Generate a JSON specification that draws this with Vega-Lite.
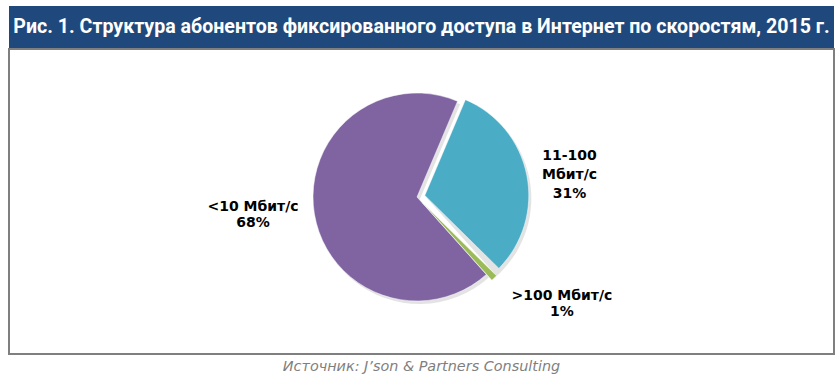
{
  "$schema": "https://vega.github.io/schema/vega-lite/v6.json",
  "background": "white",
  "padding": {"left": 8, "top": 6, "right": 0, "bottom": 0},
  "spacing": 0,
  "config": {"view": {"stroke": null}, "concat": {"spacing": 0}},
  "vconcat": [
    {
      "width": 825,
      "height": 42,
      "view": {"fill": "#1F497D", "stroke": null},
      "data": {"values": [{"title": "Рис. 1. Структура абонентов фиксированного доступа в Интернет по скоростям, 2015 г."}]},
      "mark": {"type": "text", "font": "Roboto", "fontWeight": "bold", "fontSize": 19.6, "color": "white", "align": "center", "baseline": "middle"},
      "encoding": {"text": {"field": "title"}}
    },
    {
      "width": 825,
      "height": 305,
      "view": {"stroke": "#7F7F7F", "strokeWidth": 2},
      "data": {"values": [
        {"cat": "11-100 Мбит/с", "label": "11-100\nМбит/с\n31%", "share": 31},
        {"cat": ">100 Мбит/с", "label": ">100 Мбит/с\n1%", "share": 1},
        {"cat": "<10 Мбит/с", "label": "<10 Мбит/с\n68%", "share": 68}
      ]},
      "transform": [{"window": [{"op": "row_number", "as": "i"}]}],
      "layer": [
        {
          "mark": {"type": "arc", "outerRadius": 104, "xOffset": -2, "yOffset": -1.5, "color": "#404040"},
          "encoding": {
            "theta": {"field": "share", "type": "quantitative", "stack": true, "scale": {"range": [0.401, 6.684]}},
            "order": {"field": "i", "type": "quantitative"},
            "detail": {"field": "cat", "type": "nominal"},
            "opacity": {"condition": {"test": "datum.cat === '<10 Мбит/с'", "value": 0.15}, "value": 0}
          }
        },
        {
          "mark": {"type": "arc", "outerRadius": 104, "xOffset": 5.8, "yOffset": -3.1, "color": "#404040"},
          "encoding": {
            "theta": {"field": "share", "type": "quantitative", "stack": true, "scale": {"range": [0.401, 6.684]}},
            "order": {"field": "i", "type": "quantitative"},
            "detail": {"field": "cat", "type": "nominal"},
            "opacity": {"condition": {"test": "datum.cat !== '<10 Мбит/с'", "value": 0.15}, "value": 0}
          }
        },
        {
          "mark": {"type": "arc", "outerRadius": 104, "xOffset": -4.5, "yOffset": -4.5, "stroke": "white", "strokeWidth": 0.5},
          "encoding": {
            "theta": {"field": "share", "type": "quantitative", "stack": true, "scale": {"range": [0.401, 6.684]}},
            "order": {"field": "i", "type": "quantitative"},
            "color": {"field": "cat", "type": "nominal", "scale": {"domain": ["11-100 Мбит/с", ">100 Мбит/с", "<10 Мбит/с"], "range": ["#4BACC6", "#9BBB59", "#8064A2"]}, "legend": null},
            "opacity": {"condition": {"test": "datum.cat === '<10 Мбит/с'", "value": 1}, "value": 0}
          }
        },
        {
          "mark": {"type": "arc", "outerRadius": 104, "xOffset": 3.3, "yOffset": -6.1, "stroke": "white", "strokeWidth": 0.5},
          "encoding": {
            "theta": {"field": "share", "type": "quantitative", "stack": true, "scale": {"range": [0.401, 6.684]}},
            "order": {"field": "i", "type": "quantitative"},
            "color": {"field": "cat", "type": "nominal", "legend": null},
            "opacity": {"condition": {"test": "datum.cat === '11-100 Мбит/с'", "value": 1}, "value": 0}
          }
        },
        {
          "mark": {"type": "arc", "outerRadius": 104, "xOffset": 1, "yOffset": 1.3, "stroke": "white", "strokeWidth": 0.5},
          "encoding": {
            "theta": {"field": "share", "type": "quantitative", "stack": true, "scale": {"range": [0.401, 6.684]}},
            "order": {"field": "i", "type": "quantitative"},
            "color": {"field": "cat", "type": "nominal", "legend": null},
            "opacity": {"condition": {"test": "datum.cat === '>100 Мбит/с'", "value": 1}, "value": 0}
          }
        },
        {
          "mark": {"type": "text", "radius": 164, "dx": -6.7, "dy": -21, "font": "DejaVu Sans", "fontWeight": "bold", "fontSize": 14, "lineBreak": "\n", "lineHeight": 16, "align": "center", "baseline": "middle", "color": "black"},
          "encoding": {
            "theta": {"field": "share", "type": "quantitative", "stack": true, "scale": {"range": [0.401, 6.684]}},
            "order": {"field": "i", "type": "quantitative"},
            "detail": {"field": "cat", "type": "nominal"},
            "text": {"condition": {"test": "datum.cat === '<10 Мбит/с'", "field": "label"}, "value": ""}
          }
        },
        {
          "mark": {"type": "text", "radius": 155, "dx": -4, "dy": -15, "font": "DejaVu Sans", "fontWeight": "bold", "fontSize": 14, "lineBreak": "\n", "lineHeight": 19, "align": "center", "baseline": "middle", "color": "black"},
          "encoding": {
            "theta": {"field": "share", "type": "quantitative", "stack": true, "scale": {"range": [0.401, 6.684]}},
            "order": {"field": "i", "type": "quantitative"},
            "detail": {"field": "cat", "type": "nominal"},
            "text": {"condition": {"test": "datum.cat === '11-100 Мбит/с'", "field": "label"}, "value": ""}
          }
        },
        {
          "mark": {"type": "text", "radius": 160, "dx": 30, "dy": -21, "font": "DejaVu Sans", "fontWeight": "bold", "fontSize": 14, "lineBreak": "\n", "lineHeight": 16, "align": "center", "baseline": "middle", "color": "black"},
          "encoding": {
            "theta": {"field": "share", "type": "quantitative", "stack": true, "scale": {"range": [0.401, 6.684]}},
            "order": {"field": "i", "type": "quantitative"},
            "detail": {"field": "cat", "type": "nominal"},
            "text": {"condition": {"test": "datum.cat === '>100 Мбит/с'", "field": "label"}, "value": ""}
          }
        }
      ]
    },
    {
      "width": 825,
      "height": 24,
      "data": {"values": [{"src": "Источник: J’son & Partners Consulting"}]},
      "mark": {"type": "text", "font": "DejaVu Sans", "fontStyle": "italic", "fontSize": 14.4, "color": "#7F7F7F", "align": "center", "baseline": "middle"},
      "encoding": {"text": {"field": "src"}}
    }
  ]
}
